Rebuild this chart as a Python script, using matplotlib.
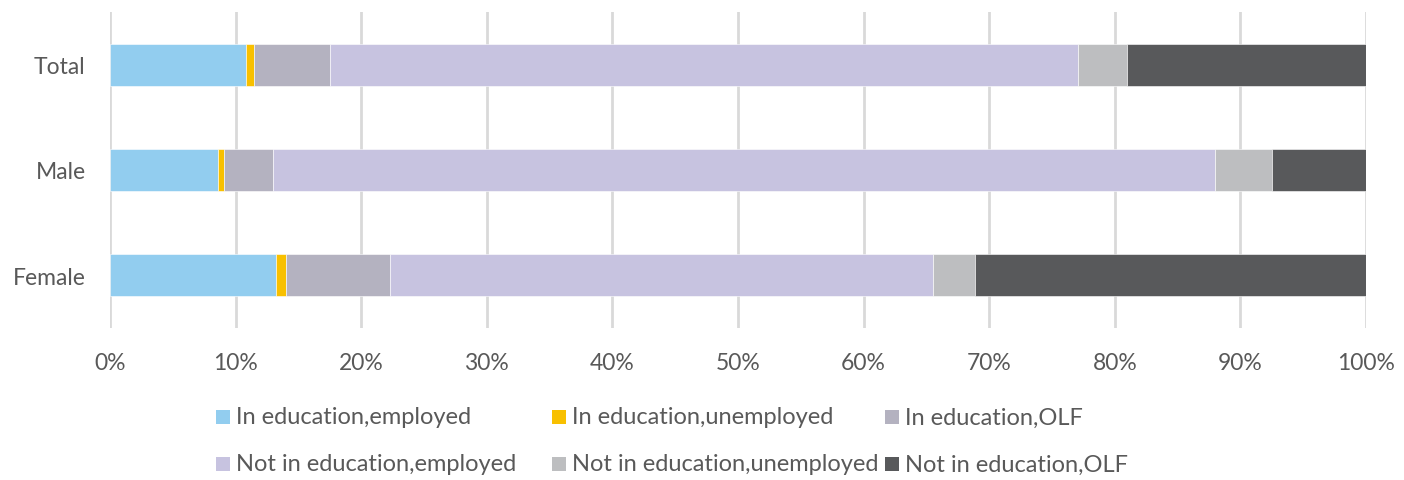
import matplotlib
matplotlib.use("Agg")
import matplotlib.pyplot as plt
from matplotlib.patches import Rectangle
import numpy as np

categories = ["Female", "Male", "Total"]
series_names = ["In education,employed", "In education,unemployed", "In education,OLF",
                "Not in education,employed", "Not in education,unemployed", "Not in education,OLF"]
in_edu_employed = [13.2, 8.6, 10.8]
in_edu_unemployed = [0.8, 0.5, 0.7]
in_edu_olf = [8.3, 3.9, 6.0]
not_edu_employed = [43.2, 75.0, 59.6]
not_edu_unemployed = [3.4, 4.5, 3.9]
not_edu_olf = [31.1, 7.5, 19.0]
xtick_labels = ["0%", "10%", "20%", "30%", "40%", "50%", "60%", "70%", "80%", "90%", "100%"]

colors = ["#92CDEF", "#F8C000", "#B4B2C0", "#C7C3E0", "#BDBEC0", "#58595B"]
series = [in_edu_employed, in_edu_unemployed, in_edu_olf,
          not_edu_employed, not_edu_unemployed, not_edu_olf]

plt.rcParams['font.family'] = ['Lato', 'DejaVu Sans']
txt = "#595959"
W, H = 1404, 481

fig = plt.figure(figsize=(W / 100, H / 100), dpi=100)
ax = fig.add_axes([110/W, 1-329/H, 1256/W, 316/H])

y = np.arange(len(categories))
left = np.zeros(len(categories))
for name, vals, c in zip(series_names, series, colors):
    vals = np.array(vals)
    ax.barh(y, vals, left=left, height=0.4, color=c, label=name,
            edgecolor="white", linewidth=0.4, zorder=3)
    left += vals

ax.set_xlim(0, 100)
ax.set_ylim(-0.5, 2.5)
ax.set_xticks(np.arange(0, 101, 10))
ax.set_xticklabels(xtick_labels)
ax.set_yticks(y)
ax.set_yticklabels(categories)
ax.grid(axis="x", color="#D9D9D9", linewidth=2, zorder=0)
for s in ax.spines.values():
    s.set_visible(False)
ax.tick_params(axis="both", length=0, labelsize=16.5, labelcolor=txt)
ax.tick_params(axis="x", pad=17)
ax.tick_params(axis="y", pad=17.5)

# legend laid out in rows like the original (row-major, 3 per row)
col_x = [216, 552, 885]
row_y = [418, 465]
for i, (name, c) in enumerate(zip(series_names, colors)):
    r, k = divmod(i, 3)
    mx, my = col_x[k], row_y[r]
    fig.add_artist(Rectangle((mx / W, 1 - (my + 7) / H), 14 / W, 14 / H,
                             transform=fig.transFigure, facecolor=c, edgecolor="none"))
    fig.text((mx + 20) / W, 1 - my / H, name, fontsize=17, color=txt,
             ha="left", va="center")

fig.savefig("out.png", dpi=100)
